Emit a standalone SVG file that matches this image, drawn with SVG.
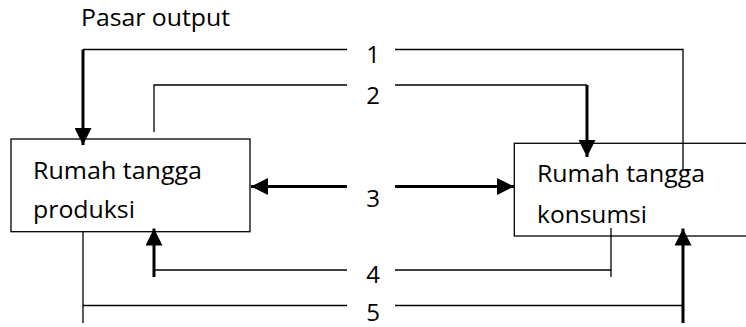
<svg xmlns="http://www.w3.org/2000/svg" width="746" height="327" viewBox="0 0 746 327">
<style>
  .box { fill: #ffffff; stroke: #000000; stroke-width: 1.3; }
  .thin { fill: none; stroke: #000000; stroke-width: 1.3; }
  .thick { fill: none; stroke: #000000; stroke-width: 3; marker-end: url(#ah); }
  .lbl { font-family: "Open Sans", "Noto Sans", sans-serif; font-size: 24px; fill: #000000; }
  .num { font-family: "Open Sans", "Noto Sans", sans-serif; font-size: 24px; fill: #000000; text-anchor: middle; }
</style>
<defs>
  <marker id="ah" markerUnits="userSpaceOnUse" markerWidth="17" markerHeight="17" refX="16" refY="8" orient="auto" viewBox="0 0 16 16">
    <path d="M0,0 L16,8 L0,16 z" fill="#000000"/>
  </marker>
</defs>
<rect width="746" height="327" fill="#ffffff"/>
<text class="lbl" x="81" y="25.7" font-size="22" textLength="149" lengthAdjust="spacingAndGlyphs">Pasar output</text>
<g id="node-produksi">
  <rect class="box" x="11" y="139" width="239" height="92.7"/>
  <text class="lbl" x="33" y="179.3" textLength="169" lengthAdjust="spacingAndGlyphs">Rumah tangga</text>
  <text class="lbl" x="33" y="218.3" textLength="102" lengthAdjust="spacingAndGlyphs">produksi</text>
</g>
<g id="node-konsumsi">
  <rect class="box" x="514.3" y="143.3" width="240" height="92.7"/>
  <text class="lbl" x="537" y="181.7" textLength="168" lengthAdjust="spacingAndGlyphs">Rumah tangga</text>
  <text class="lbl" x="537" y="222.7" textLength="110" lengthAdjust="spacingAndGlyphs">konsumsi</text>
</g>
<g id="connectors">
  <path class="thin" d="M347,49.5 H83"/>
  <path class="thick" d="M83,49.5 V145"/>
  <path class="thin" d="M395,49.5 H683 V170"/>
  <path class="thin" d="M154,132 V85 H347"/>
  <path class="thin" d="M395,85 H587"/>
  <path class="thick" d="M587,85 V157"/>
  <path class="thick" d="M347,186.5 H251"/>
  <path class="thick" d="M395,186.5 H514"/>
  <path class="thick" d="M154,277 V228.5"/>
  <path class="thin" d="M154,270 H347"/>
  <path class="thin" d="M395,270 H611"/>
  <path class="thin" d="M611,228 V277"/>
  <path class="thin" d="M83,232 V323"/>
  <path class="thin" d="M83,305.5 H347"/>
  <path class="thin" d="M395,305.5 H683"/>
  <path class="thick" d="M683,323 V228.5"/>
</g>
<g id="labels">
  <text class="num" x="373" y="63.3">1</text>
  <text class="num" x="373" y="104">2</text>
  <text class="num" x="373" y="206.5">3</text>
  <text class="num" x="373" y="283">4</text>
  <text class="num" x="373" y="321">5</text>
</g>
</svg>
